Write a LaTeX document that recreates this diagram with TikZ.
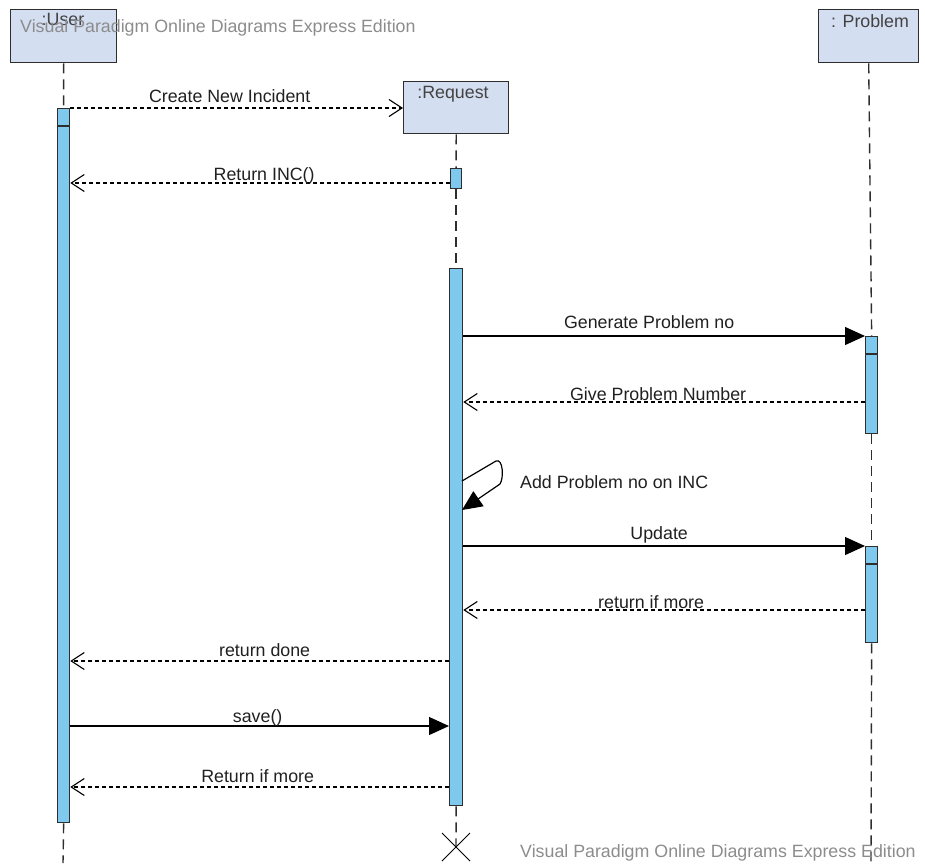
\documentclass[tikz,border=0pt]{standalone}
\usepackage{fontspec}
\setmainfont{Liberation Sans}
\usetikzlibrary{arrows.meta}

\definecolor{objfill}{HTML}{D4DEF1}
\definecolor{actfill}{HTML}{7FC8EE}
\definecolor{edgec}{HTML}{2E2E2E}
\definecolor{wmark}{HTML}{8C8C8C}
\definecolor{txt}{HTML}{202020}

\begin{document}
\begin{tikzpicture}[x=1pt,y=-1pt,
  font=\fontsize{17.8}{20}\selectfont,
  objbox/.style={draw=edgec, fill=objfill, line width=1.4pt, inner sep=0pt,
                 anchor=north west, minimum width=#1, minimum height=53pt},
  objname/.style={anchor=base, inner sep=0pt, text=edgec!90},
  act/.style={draw=edgec, fill=actfill, line width=1.3pt, inner sep=0pt,
              anchor=north west, minimum width=12pt, minimum height=#1},
  life/.style={draw=edgec, line width=1.4pt, dash pattern=on 10pt off 6pt},
  dmsg/.style={draw=black, line width=1.1pt, dash pattern=on 4pt off 3pt,
               -{Straight Barb[length=13pt,width=17pt,line width=1.1pt]}},
  smsg/.style={draw=black, line width=1.2pt,
               -{Triangle[length=20pt,width=18pt]}},
  lbl/.style={anchor=base, inner sep=0pt, text=txt},
  wm/.style={anchor=base west, inner sep=0pt, text=wmark}
]
\useasboundingbox (0,0) rectangle (925,863);

% object heads
\node[objbox=106pt] (user) at (10,9) {};
\node[objbox=105pt, minimum height=52pt] (req) at (403,81) {};
\node[objbox=100pt] (prob) at (818,9) {};
\node[objname] (userT) at (63,25) {:User};
\node[objname] (reqT) at (453,98) {:Request};
\node[objname] (probT) at (870,27) {: Problem};

% activation bars
\node[act=714pt] (uact) at (57,108) {};
\node[act=20pt, minimum width=11pt] (ract1) at (450,168) {};
\node[act=537pt, minimum width=13pt] (ract2) at (449,268) {};
\node[act=97pt] (pact1) at (865,336) {};
\node[act=96pt] (pact2) at (865,546) {};
\draw[edgec, line width=1.1pt] ([yshift=-18pt]uact.north west) -- ([yshift=-18pt]uact.north east);
\draw[edgec, line width=1.1pt] ([yshift=-18pt]pact1.north west) -- ([yshift=-18pt]pact1.north east);
\draw[edgec, line width=1.1pt] ([yshift=-18pt]pact2.north west) -- ([yshift=-18pt]pact2.north east);

% lifeline ends
\coordinate (uend) at (63,863);
\coordinate (pend) at (871,863);
\coordinate (xc) at (456,847);

% lifelines
\draw[life] (user.south) -- (uact.north);
\draw[life] (uact.south) -- (uend);
\draw[life] (req.south) -- (ract1.north);
\draw[life] (ract1.south) -- (ract2.north);
\draw[life] (ract2.south) -- (xc);
\draw[life] (prob.south) -- (pact1.north);
\draw[life] (pact1.south) -- (pact2.north);
\draw[life] (pact2.south) -- (pend);

% destruction mark
\draw[black, line width=1pt] ([shift={(-14pt,14pt)}]xc) -- ([shift={(14pt,-14pt)}]xc)
                             ([shift={(-14pt,-14pt)}]xc) -- ([shift={(14pt,14pt)}]xc);

% message levels
\coordinate (y1) at (0,108);
\coordinate (y2) at (0,183);
\coordinate (y3) at (0,336);
\coordinate (y4) at (0,402);
\coordinate (y5) at (0,546);
\coordinate (y6) at (0,610);
\coordinate (y7) at (0,661);
\coordinate (y8) at (0,726);
\coordinate (y9) at (0,787);

% messages
\draw[dmsg] (uact.north east) -- (req.west |- y1)
  node[lbl, midway, xshift=-7pt, yshift=6pt] {Create New Incident};
\draw[dmsg] (ract1.west |- y2) -- (uact.east |- y2)
  node[lbl, midway, xshift=4pt, yshift=3pt] {Return INC()};
\draw[smsg] (ract2.east |- y3) -- (pact1.north west)
  node[lbl, midway, xshift=-15pt, yshift=8pt] {Generate Problem no};
\draw[dmsg] (pact1.west |- y4) -- (ract2.east |- y4)
  node[lbl, midway, xshift=-6pt, yshift=2pt] {Give Problem Number};

% self call
\coordinate (s0) at (462,481);
\coordinate (s1) at (496,461);
\coordinate (s2) at (500,484);
\coordinate (s3) at (462,510);
\draw[draw=black, line width=1.2pt] (s0) -- (s1) .. controls (503,458) and (504,478) .. (s2);
\draw[smsg] (s2) -- (s3);
\node[anchor=base west, inner sep=0pt, text=txt] (selfT) at (520,488) {Add Problem no on INC};

\draw[smsg] (ract2.east |- y5) -- (pact2.north west)
  node[lbl, midway, xshift=-5pt, yshift=7pt] {Update};
\draw[dmsg] (pact2.west |- y6) -- (ract2.east |- y6)
  node[lbl, midway, xshift=-13pt, yshift=2pt] {return if more};
\draw[dmsg] (ract2.west |- y7) -- (uact.east |- y7)
  node[lbl, midway, xshift=5pt, yshift=5pt] {return done};
\draw[smsg] (uact.east |- y8) -- (ract2.west |- y8)
  node[lbl, midway, xshift=-2pt, yshift=4pt] {save()};
\draw[dmsg] (ract2.west |- y9) -- (uact.east |- y9)
  node[lbl, midway, xshift=-2pt, yshift=5pt] {Return if more};

% editor watermarks
\node[wm] (wmTop) at (20,32) {Visual Paradigm Online Diagrams Express Edition};
\node[wm] (wmBot) at (520,857) {Visual Paradigm Online Diagrams Express Edition};
\end{tikzpicture}
\end{document}
